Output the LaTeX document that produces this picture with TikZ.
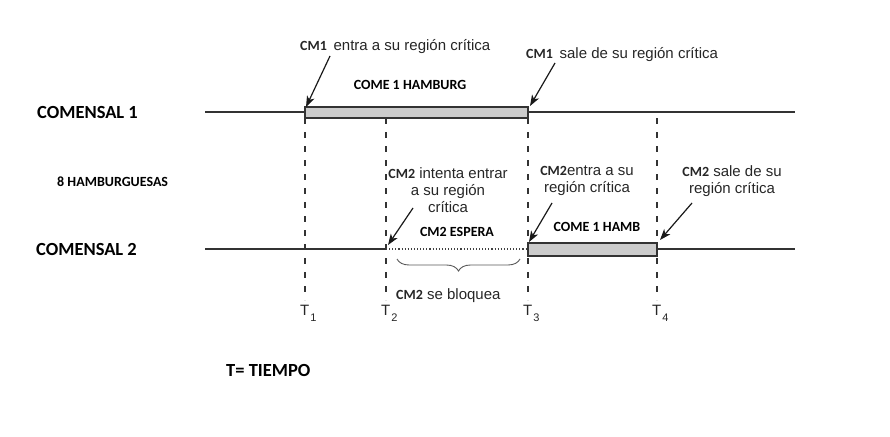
\documentclass[tikz,border=0pt]{standalone}
\usepackage{fontspec}
\setmainfont{Liberation Sans}
\newfontfamily\calibri{Carlito}
\usetikzlibrary{calc}
\usetikzlibrary{decorations.pathreplacing}
\usetikzlibrary{arrows.meta}
\newcommand\cm[1]{{\calibri\bfseries\fontsize{14}{16}\selectfont #1}}
\newcommand\tsub[1]{T\kern1pt\raisebox{-6pt}{\fontsize{11}{11}\selectfont #1}}
\tikzset{
  timeline/.style={line width=1.5pt, black!80},
  busy/.style={line width=1.5pt, draw=black!80, fill=black!20},
  waiting/.style={line width=1.1pt, black!75, dotted},
  tick/.style={line width=1.2pt, black!80, dash pattern=on 6pt off 8pt},
  callout/.style={line width=1.2pt, black!90, -{Stealth[length=11pt,width=8pt,inset=3pt]}},
  big/.style={font=\calibri\bfseries\fontsize{18.5}{20}\selectfont, inner sep=0pt},
  small/.style={font=\calibri\bfseries\fontsize{14}{16}\selectfont, inner sep=0pt},
  note/.style={font=\fontsize{15}{17}\selectfont, text=black!85, inner sep=0pt},
  tlabel/.style={font=\fontsize{15}{17}\selectfont, text=black!85, anchor=base west, inner sep=0pt},
}
\begin{document}
\begin{tikzpicture}[x=1pt,y=-1pt]
      \useasboundingbox (0,0) rectangle (890,436);

      \node [big, anchor=west] (com1) at (37,112) {COMENSAL 1};
      \node [small, anchor=west] (hamb8) at (57,182) {8 HAMBURGUESAS};
      \node [big, anchor=west] (com2) at (36,249) {COMENSAL 2};
      \node [big, anchor=west] (tiempo) at (226,370) {T= TIEMPO};

      \coordinate (s1) at (205,112);
      \coordinate (e1) at (795,112);
      \coordinate (s2) at (205,249);
      \coordinate (e2) at (795,249);

      % instants T1..T4
      \foreach \n/\x in {1/305, 2/386, 3/528, 4/657}{
          \coordinate (top\n) at (\x,112);
          \coordinate (bot\n) at (\x,249);
          \coordinate (end\n) at (\x,300);
          \draw [tick] (\x,118) -- (end\n);
          \node [tlabel] (t\n) at (\x-5,315) {\tsub{\n}};
        }

      % comensal 1
      \draw [timeline] (s1) -- (top1);
      \draw [busy] ($(top1)+(0,-5)$) rectangle ($(top3)+(0,6)$);
      \draw [timeline] (top3) -- (e1);
      \node [small] (eat1) at (410,85) {COME 1 HAMBURG};

      % comensal 2
      \draw [timeline] (s2) -- (bot2);
      \draw [waiting] (bot2) -- (bot3);
      \draw [busy] ($(bot3)+(0,-6)$) rectangle ($(bot4)+(0,7)$);
      \draw [timeline] (bot4) -- (e2);
      \node [small] (wait2) at (457,232) {CM2 ESPERA};
      \node [small] (eat2) at (597,227) {COME 1 HAMB};

      \draw [black!65, line width=.9pt, decorate,
        decoration={brace, mirror, amplitude=12pt}] (397,259) -- (520,259);
      \node [note, anchor=base west] (blk) at (396,299) {\cm{CM2} se bloquea};

      % llamadas
      \node [note, anchor=base west] (cm1in) at (300,50) {\cm{CM1}\, entra a su región crítica};
      \node [note, anchor=base west] (cm1out) at (526,58) {\cm{CM1}\, sale de su región crítica};
      \node [note, align=center, anchor=north] (cm2try) at (448,167)
        {\cm{CM2} intenta entrar\\a su región\\crítica};
      \node [note, align=center, anchor=north] (cm2in) at (587,166)
        {\cm{CM2}entra a su\\región crítica};
      \node [note, align=center, anchor=north] (cm2out) at (732,165)
        {\cm{CM2} sale de su\\región crítica};

      \coordinate (a1) at (330,56);
      \coordinate (a2) at (555,63);
      \coordinate (a3) at (413,208);
      \coordinate (a4) at (552,203);
      \coordinate (a5) at (692,203);
      \draw [callout] (a1) -- ($(top1)+(1,-5)$);
      \draw [callout] (a2) -- ($(top3)+(2,-6)$);
      \draw [callout] (a3) -- ($(bot2)+(2,-4)$);
      \draw [callout] (a4) -- ($(bot3)+(1,-7)$);
      \draw [callout] (a5) -- ($(bot4)+(3,-9)$);
    \end{tikzpicture}
\end{document}
